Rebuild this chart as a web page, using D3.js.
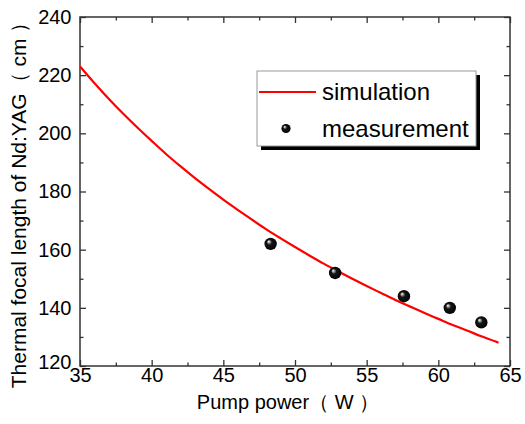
<!DOCTYPE html>
<html>
<head>
<meta charset="utf-8">
<script src="https://cdn.jsdelivr.net/npm/d3@7"></script>
<style>
  html, body { margin: 0; padding: 0; background: #fff; }
  svg { display: block; }
  text { font-family: "Liberation Sans", Arial, sans-serif; fill: #000; }
</style>
</head>
<body>
<svg id="chart" width="525" height="424"></svg>
<script>
// Simulated thermal focal length (cm) versus pump power (W)
const simPower = [35, 36, 37, 38, 39, 40, 41, 42, 43, 44, 45, 46, 47, 48, 49, 50,
                  51, 52, 53, 54, 55, 56, 57, 58, 59, 60, 61, 62, 63, 64, 64.2];
const simFocal = [223, 217.3, 211.9, 206.8, 202.0, 197.4, 192.9, 188.7, 184.7, 180.9, 177.2, 173.7,
                  170.3, 167.0, 163.9, 160.9, 158.0, 155.2, 152.6, 150.0, 147.5, 145.1, 142.7, 140.5,
                  138.3, 136.2, 134.1, 132.2, 130.2, 128.4, 128.0];

// Measured thermal focal length
const measPower = [48.3, 52.8, 57.6, 60.8, 63.0];
const measFocal = [162, 152, 144, 140, 135];

// Axis ticks
const xTicks = [35, 40, 45, 50, 55, 60, 65];
const yTicks = [120, 140, 160, 180, 200, 220, 240];
const legendLabels = ["simulation", "measurement"];

const svg = d3.select("#chart");
const L = 80, R = 510, T = 17, B = 366;

const x = d3.scaleLinear().domain([35, 65]).range([L, R]);
const y = d3.scaleLinear().domain([120, 240]).range([B, T]);

// Shiny sphere fill for the measurement markers
const defs = svg.append("defs");
const grad = defs.append("radialGradient")
  .attr("id", "ball").attr("cx", "50%").attr("cy", "50%").attr("r", "55%")
  .attr("fx", "33%").attr("fy", "30%");
grad.append("stop").attr("offset", "0%").attr("stop-color", "#ffffff");
grad.append("stop").attr("offset", "14%").attr("stop-color", "#b0b0b0");
grad.append("stop").attr("offset", "38%").attr("stop-color", "#161616");
grad.append("stop").attr("offset", "100%").attr("stop-color", "#000000");

const axisColor = "#333";
const minor = (a, b, step) => d3.range(a, b + 1e-9, step);

// Bottom / top axes: major ticks with labels, minor ticks between, all inward
const xBottom = d3.axisBottom(x).tickValues(xTicks).tickSize(-6).tickPadding(1.5).tickFormat(d3.format("d"));
const xBottomMinor = d3.axisBottom(x).tickValues(minor(37.5, 62.5, 5)).tickSize(-3.5).tickFormat("");
const xTop = d3.axisTop(x).tickValues(xTicks).tickSize(-6).tickFormat("");
const xTopMinor = d3.axisTop(x).tickValues(minor(37.5, 62.5, 5)).tickSize(-3.5).tickFormat("");

const yLeft = d3.axisLeft(y).tickValues(yTicks).tickSize(-6).tickPadding(8.5).tickFormat(d3.format("d"));
const yLeftMinor = d3.axisLeft(y).tickValues(minor(130, 230, 20)).tickSize(-3.5).tickFormat("");
const yRight = d3.axisRight(y).tickValues(yTicks).tickSize(-6).tickFormat("");
const yRightMinor = d3.axisRight(y).tickValues(minor(130, 230, 20)).tickSize(-3.5).tickFormat("");

function styleAxis(g) {
  g.select(".domain").remove();
  g.selectAll(".tick line").attr("stroke", axisColor).attr("stroke-width", 1.3);
  g.selectAll(".tick text").attr("font-size", 20).attr("fill", "#000")
    .style("font-family", '"Liberation Sans", Arial, sans-serif');
}

svg.append("g").attr("transform", `translate(0,${B})`).call(xBottom).call(styleAxis);
svg.append("g").attr("transform", `translate(0,${B})`).call(xBottomMinor).call(styleAxis);
svg.append("g").attr("transform", `translate(0,${T})`).call(xTop).call(styleAxis);
svg.append("g").attr("transform", `translate(0,${T})`).call(xTopMinor).call(styleAxis);
const gy = svg.append("g").attr("transform", `translate(${L},0)`).call(yLeft).call(styleAxis);
svg.append("g").attr("transform", `translate(${L},0)`).call(yLeftMinor).call(styleAxis);
svg.append("g").attr("transform", `translate(${R},0)`).call(yRight).call(styleAxis);
svg.append("g").attr("transform", `translate(${R},0)`).call(yRightMinor).call(styleAxis);

// lowest y label sits slightly above the corner
gy.selectAll(".tick text").filter(d => d === 120).attr("dy", "0.12em");

// Frame
svg.append("rect").attr("x", L).attr("y", T).attr("width", R - L).attr("height", B - T)
  .attr("fill", "none").attr("stroke", axisColor).attr("stroke-width", 1.5);

// Simulation curve
const line = d3.line().x((d, i) => x(simPower[i])).y(d => y(d)).curve(d3.curveMonotoneX);
svg.append("path").datum(simFocal)
  .attr("d", line).attr("fill", "none").attr("stroke", "#ff0000").attr("stroke-width", 2.2);

// Measurement points
svg.append("g").selectAll("circle").data(measFocal).join("circle")
  .attr("cx", (d, i) => x(measPower[i])).attr("cy", d => y(d)).attr("r", 6.2)
  .attr("fill", "url(#ball)");

// Axis titles
svg.append("text").attr("x", 288).attr("y", 409).attr("text-anchor", "middle")
  .attr("font-size", 20).text("Pump power（ W ）");
svg.append("text").attr("transform", "translate(26,200) rotate(-90)").attr("text-anchor", "middle")
  .attr("font-size", 21).text("Thermal focal length of Nd:YAG（ cm ）");

// Legend
const lg = svg.append("g");
const lx = 257, ly = 71, lw = 219, lh = 75;
lg.append("rect").attr("x", lx + 4).attr("y", ly + 4).attr("width", lw).attr("height", lh).attr("fill", "#000");
lg.append("rect").attr("x", lx).attr("y", ly).attr("width", lw).attr("height", lh)
  .attr("fill", "#fff").attr("stroke", "#999").attr("stroke-width", 1);
lg.append("line").attr("x1", lx + 2).attr("x2", lx + 59).attr("y1", 92).attr("y2", 92)
  .attr("stroke", "#ff0000").attr("stroke-width", 2.2);
lg.append("circle").attr("cx", 286).attr("cy", 128.5).attr("r", 4.6).attr("fill", "url(#ball)");
lg.selectAll("text.lbl").data(legendLabels).join("text").attr("class", "lbl")
  .attr("x", 322).attr("y", (d, i) => 100 + i * 36.5).attr("font-size", 24).text(d => d);
</script>
</body>
</html>
